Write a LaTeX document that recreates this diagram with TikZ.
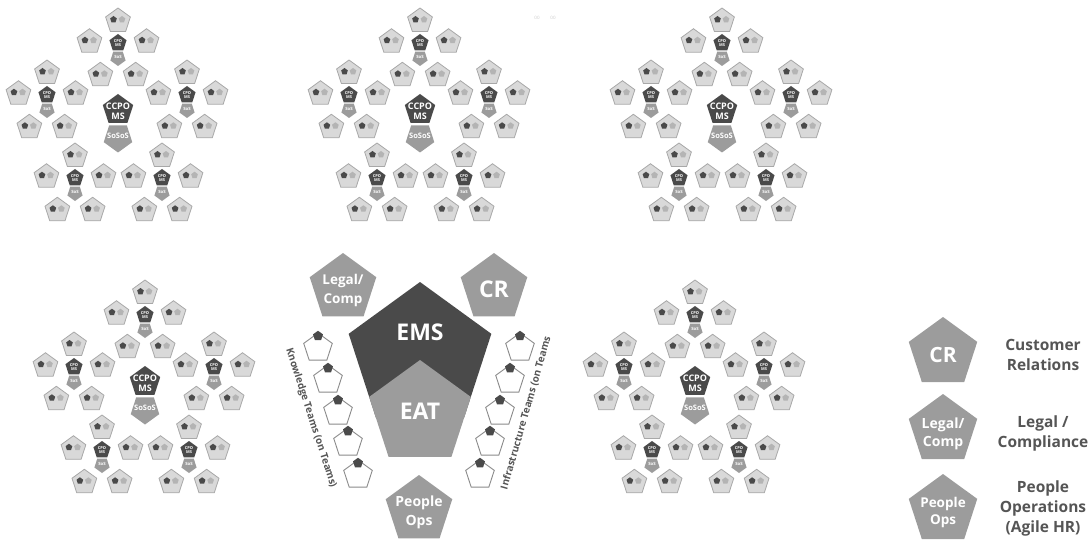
\documentclass[tikz,border=0pt]{standalone}
\usepackage{fontspec}
\setmainfont{Open Sans}
\usetikzlibrary{shapes.geometric}
\definecolor{dk}{HTML}{4A4A4A}
\definecolor{md}{HTML}{9C9C9C}
\definecolor{lt}{HTML}{D9D9D9}
\definecolor{bd}{HTML}{A8A8A8}
\definecolor{ld}{HTML}{B4B4B4}
\definecolor{lg}{HTML}{555555}
\definecolor{wb}{HTML}{8A8A8A}
\definecolor{fa}{HTML}{CCCCCC}
\tikzset{
  pent/.style={regular polygon, regular polygon sides=5, inner sep=0pt, outer sep=0pt},
  ipent/.style={pent, shape border rotate=180},
  ccpo/.style={pent, fill=dk, minimum size=32pt},
  soso/.style={ipent, fill=md, minimum size=30pt},
  cpo/.style={pent, fill=dk, minimum size=18pt},
  sos/.style={ipent, fill=md, minimum size=16pt},
  team/.style={pent, fill=lt, draw=bd, line width=0.8pt, minimum size=26pt},
  dotd/.style={pent, fill=dk, minimum size=7pt},
  dotl/.style={pent, fill=ld, minimum size=7pt},
  wtxt/.style={text=white, align=center, inner sep=0pt},
  ccpotxt/.style={wtxt, font=\bfseries\fontsize{9}{10}\selectfont},
  sosotxt/.style={wtxt, font=\bfseries\fontsize{7.5}{9}\selectfont},
  cpotxt/.style={wtxt, font=\bfseries\fontsize{4}{4.6}\selectfont},
  sostxt/.style={wtxt, font=\bfseries\fontsize{4.3}{5}\selectfont},
  mdpent/.style={pent, fill=md},
  wteam/.style={pent, fill=white, draw=wb, line width=0.9pt, minimum size=30pt},
  wdot/.style={pent, fill=dk, minimum size=10.5pt},
  rottxt/.style={text=lg, inner sep=0pt, font=\bfseries\fontsize{10}{12}\selectfont},
  legtxt/.style={text=lg, align=center, inner sep=0pt, font=\bfseries\fontsize{15.5}{20}\selectfont},
  faint/.style={text=fa, inner sep=0pt, font=\fontsize{4.5}{5}\selectfont}
}
\newcommand\teampent[3]{%
  \node[team] (#1) at ({#2},{#3}) {};
  \node[dotd] (#1-d) at ({#2-4.5},{#3-1.5}) {};
  \node[dotl] (#1-l) at ({#2+4},{#3-1.5}) {};
}
\newcommand\subcl[3]{%
  \node[cpo] (#1) at ({#2},{#3}) {};
  \node[cpotxt] (#1-t) at ({#2},{#3}) {CPO\\MS};
  \node[sos] (#1-s) at ({#2},{#3+15}) {};
  \node[sostxt] (#1-st) at ({#2},{#3+14}) {SoS};
  \foreach \k/\a in {1/90,2/162,3/18,4/234,5/306}{%
    \pgfmathsetmacro\tx{#2+30*cos(\a)}%
    \pgfmathsetmacro\ty{#3+8-30*sin(\a)}%
    \teampent{#1-\k}{\tx}{\ty}%
  }%
}
\newcommand\cluster[3]{%
  \node[ccpo] (#1) at (#2,#3) {};
  \node[ccpotxt] (#1-t) at (#2,#3+1) {CCPO\\MS};
  \node[soso] (#1-s) at (#2,#3+27.5) {};
  \node[sosotxt] (#1-st) at (#2,#3+25.5) {SoSoS};
  \foreach \s/\dx/\dy in {1/0/-67,2/-71/-15,3/69/-15,4/-43/68,5/44/68}{%
    \pgfmathsetmacro\sx{#2+\dx}%
    \pgfmathsetmacro\sy{#3+\dy}%
    \subcl{#1-\s}{\sx}{\sy}%
  }%
}
\begin{document}
\begin{tikzpicture}[x=1pt,y=-1pt]
\path[use as bounding box] (0,0) rectangle (1091,540);
\cluster{ca}{118}{110}
\cluster{cb}{420}{110}
\cluster{cc}{722}{110}
\cluster{cd}{145}{382}
\cluster{ce}{695}{382}
\node[faint] (fa1) at (537,18) {00};
\node[faint] (fa2) at (553,18) {00};
% centre
\node[mdpent, minimum size=70pt] (legal) at (343,288) {};
\node[wtxt, font=\bfseries\fontsize{13.5}{19}\selectfont] (legalt) at (343,290) {Legal/\\Comp};
\node[mdpent, minimum size=70pt] (cr) at (494,288) {};
\node[wtxt, font=\bfseries\fontsize{23}{26}\selectfont] (crt) at (494,289) {CR};
\node[pent, fill=dk, minimum size=150pt] (ems) at (420,357) {};
\node[pent, fill=md, minimum size=107pt] (eat) at (420,413.5) {};
\node[wtxt, font=\bfseries\fontsize{23}{26}\selectfont] (emst) at (420,332) {EMS};
\node[wtxt, font=\bfseries\fontsize{23}{26}\selectfont] (eatt) at (420,411) {EAT};
\node[mdpent, minimum size=70pt] (ppl) at (419,510) {};
\node[wtxt, font=\bfseries\fontsize{14}{19}\selectfont] (pplt) at (419,512) {People\\Ops};
\foreach \i/\x/\y in {1/318/348,2/328/380,3/338/412,4/348/443,5/358/475}{%
  \node[wteam] (k\i) at (\x,\y) {};
  \node[wdot] (k\i-d) at (\x,\y-12) {};
}
\foreach \i/\x/\y in {1/520/348,2/510/380,3/500/412,4/490/443,5/480/475}{%
  \node[wteam] (n\i) at (\x,\y) {};
  \node[wdot] (n\i-d) at (\x,\y-12) {};
}
\node[rottxt, rotate=-72] (ktxt) at (311,418) {Knowledge Teams (on Teams)};
\node[rottxt, rotate=74] (itxt) at (526,413) {Infrastructure Teams (on Teams};
% legend
\node[mdpent, minimum size=72pt] (lcr) at (943,353) {};
\node[wtxt, font=\bfseries\fontsize{21}{24}\selectfont] (lcrt) at (943,355) {CR};
\node[mdpent, minimum size=72pt] (llg) at (943,430) {};
\node[wtxt, font=\bfseries\fontsize{14}{18}\selectfont] (llgt) at (943,434) {Legal/\\Comp};
\node[mdpent, minimum size=72pt] (lpo) at (943,510) {};
\node[wtxt, font=\bfseries\fontsize{13.5}{17}\selectfont] (lpot) at (943,512) {People\\Ops};
\node[legtxt] (lcrd) at (1043,355) {Customer\\Relations};
\node[legtxt] (llgd) at (1043,433) {Legal /\\Compliance};
\node[legtxt] (lpod) at (1043,508) {People\\Operations\\(Agile HR)};
\end{tikzpicture}
\end{document}
